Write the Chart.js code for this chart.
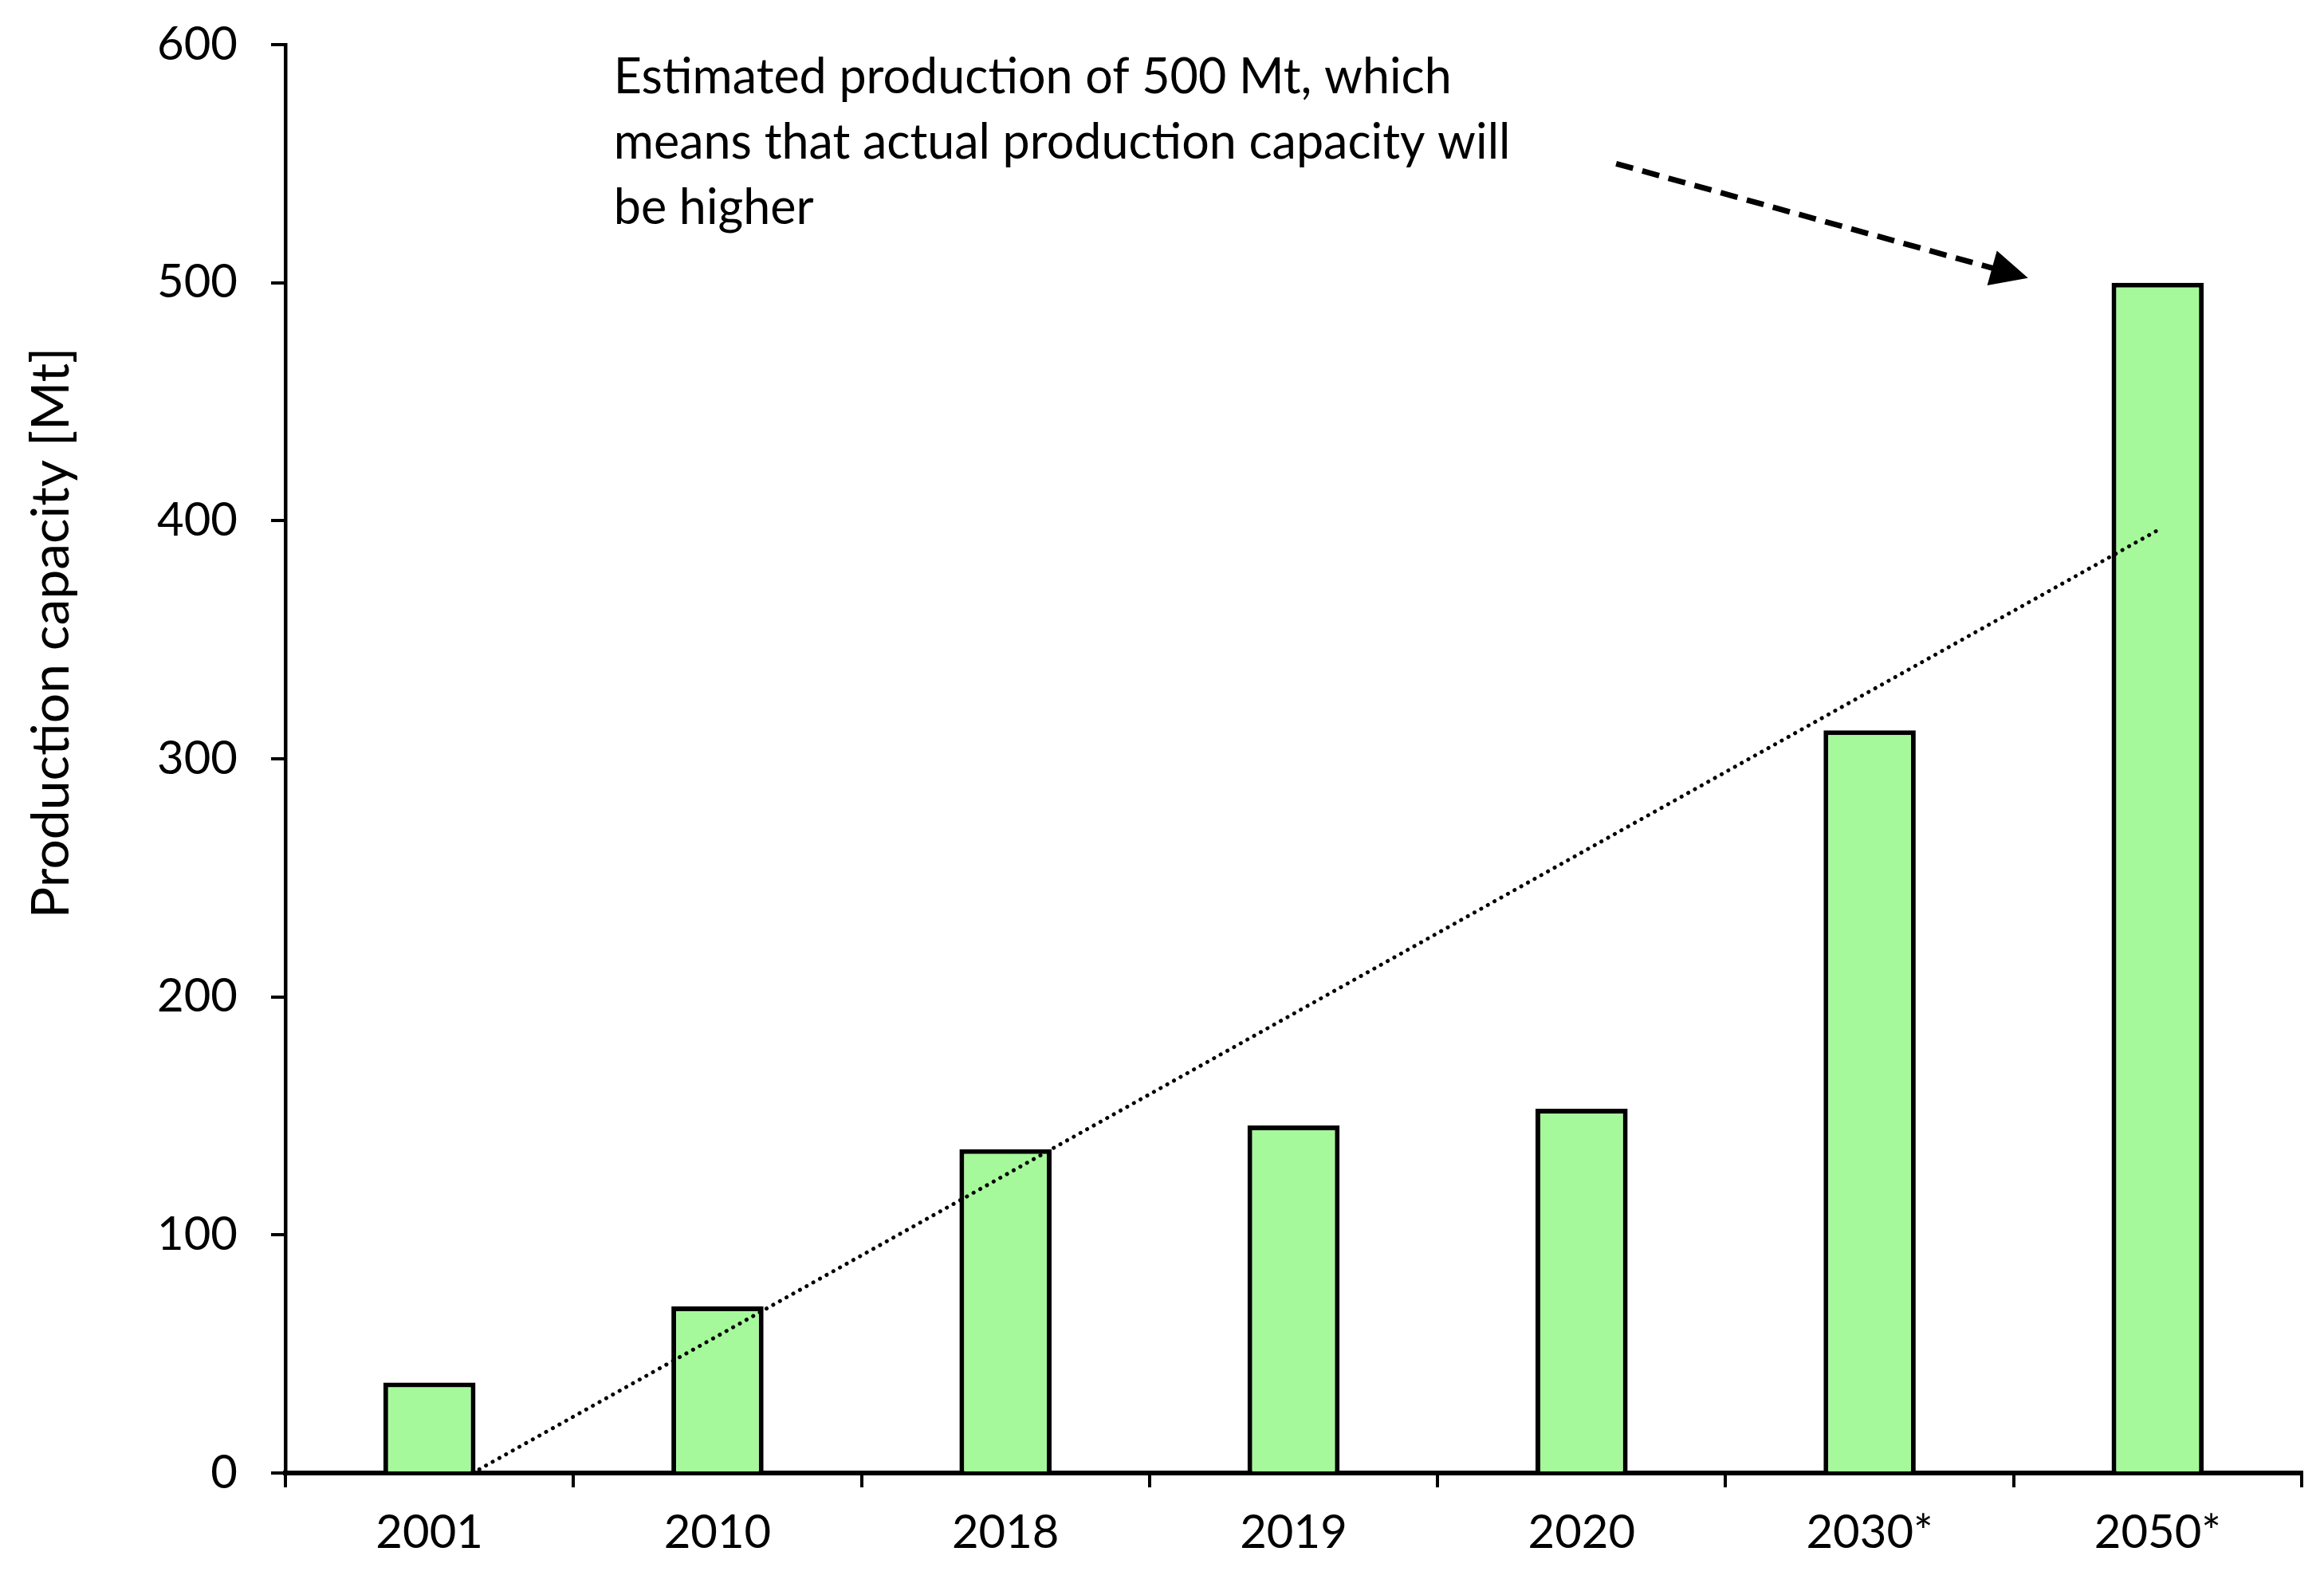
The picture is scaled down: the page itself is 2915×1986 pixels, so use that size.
<!DOCTYPE html>
<html>
<head>
<meta charset="utf-8">
<script src="https://cdn.jsdelivr.net/npm/chart.js@4/dist/chart.umd.min.js"></script>
<style>
  html, body { margin: 0; padding: 0; background: #fff; }
  #wrap { width: 2915px; height: 1986px; }
</style>
</head>
<body>
<div id="wrap"><canvas id="chart"></canvas></div>
<script>
// ==================== data ====================
const years = ['2001', '2010', '2018', '2019', '2020', '2030*', '2050*'];
const capacity = [38, 70, 136, 146, 153, 312, 500];
const yTicks = [0, 100, 200, 300, 400, 500, 600];
// trend line (x in category units, 1 = first bar)
const trendX = [1.15, 7.0];
const trendY = [0, 396];

const yTitle = 'Production capacity [Mt]';
const noteLines = [
  'Estimated production of 500 Mt, which',
  'means that actual production capacity will',
  'be higher'
];

const FONT = 'Lato';

// annotation: text + dashed arrow, placed in data units
const notePlugin = {
  id: 'note',
  afterDraw(chart) {
    const ctx = chart.ctx;
    const x2 = chart.scales.x2;
    const y = chart.scales.y;

    ctx.save();
    ctx.fillStyle = '#000';
    ctx.font = `61px ${FONT}`;
    ctx.textBaseline = 'middle';
    ctx.textAlign = 'left';
    const tx = x2.getPixelForValue(1.64);
    const ty = y.getPixelForValue(586);
    noteLines.forEach((l, i) => ctx.fillText(l, tx, ty + i * 82));

    // dashed arrow
    const sx = x2.getPixelForValue(5.12), sy = y.getPixelForValue(550);
    const ex = x2.getPixelForValue(6.55), ey = y.getPixelForValue(502);
    const ang = Math.atan2(ey - sy, ex - sx);
    const head = 52;
    ctx.strokeStyle = '#000';
    ctx.lineWidth = 7;
    ctx.setLineDash([22, 12]);
    ctx.beginPath();
    ctx.moveTo(sx, sy);
    ctx.lineTo(ex - Math.cos(ang) * head * 0.8, ey - Math.sin(ang) * head * 0.8);
    ctx.stroke();
    ctx.setLineDash([]);
    ctx.beginPath();
    ctx.moveTo(ex, ey);
    ctx.lineTo(ex - head * Math.cos(ang - 0.45), ey - head * Math.sin(ang - 0.45));
    ctx.lineTo(ex - head * Math.cos(ang + 0.45), ey - head * Math.sin(ang + 0.45));
    ctx.closePath();
    ctx.fill();

    // y axis title (sits above the axis middle in the original)
    ctx.translate(65, 794);
    ctx.rotate(-Math.PI / 2);
    ctx.textAlign = 'center';
    ctx.font = `66px ${FONT}`;
    ctx.fillText(yTitle, 0, 0);
    ctx.restore();
  }
};

new Chart(document.getElementById('chart'), {
  type: 'bar',
  data: {
    labels: years,
    datasets: [{
      type: 'line',
      data: trendX.map((x, i) => ({ x: x, y: trendY[i] })),
      xAxisID: 'x2',
      borderColor: '#000',
      borderWidth: 5,
      borderDash: [0.1, 9.5],
      borderCapStyle: 'round',
      pointRadius: 0,
      fill: false,
      order: 0
    }, {
      data: capacity,
      backgroundColor: 'rgb(166, 249, 155)',
      borderColor: '#000',
      borderWidth: 6,
      barPercentage: 0.32,
      categoryPercentage: 1,
      grouped: false,
      order: 1
    }]
  },
  options: {
    responsive: true,
    maintainAspectRatio: false,
    devicePixelRatio: 1,
    animation: false,
    layout: { padding: { top: 56, right: 28, left: 0, bottom: 0 } },
    plugins: {
      legend: { display: false },
      tooltip: { enabled: false }
    },
    scales: {
      x: {
        offset: true,
        afterFit: (s) => { s.height = 138; s.paddingLeft = 0; s.paddingRight = 0; },
        grid: {
          offset: true,
          drawOnChartArea: false,
          drawTicks: true,
          tickLength: 18,
          color: '#000',
          lineWidth: 4
        },
        border: { color: '#000', width: 6 },
        ticks: { color: '#000', font: { family: FONT, size: 58 }, padding: 22 }
      },
      x2: {
        type: 'linear',
        display: false,
        offset: false,
        min: 0.5,
        max: 7.5
      },
      y: {
        min: 0,
        max: 600,
        afterFit: (s) => { s.width = 358; s.paddingTop = 0; s.paddingBottom = 0; },
        afterBuildTicks: (s) => { s.ticks = yTicks.map(v => ({ value: v })); },
        grid: {
          drawOnChartArea: false,
          drawTicks: true,
          tickLength: 18,
          color: '#000',
          lineWidth: 4
        },
        border: { color: '#000', width: 4.5 },
        ticks: { color: '#000', font: { family: FONT, size: 58 }, padding: 42 }
      }
    }
  },
  plugins: [notePlugin]
});
</script>
</body>
</html>
